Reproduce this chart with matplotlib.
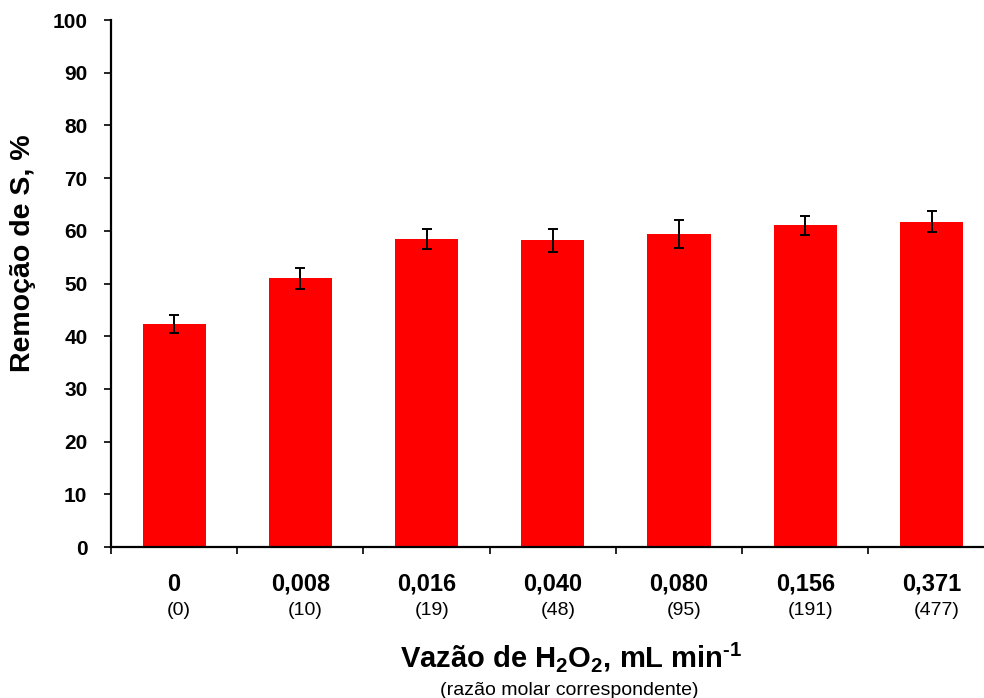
import matplotlib
matplotlib.use("Agg")
import matplotlib.pyplot as plt
import numpy as np

plt.rcParams['font.family'] = ['Liberation Sans', 'DejaVu Sans']
plt.rcParams['mathtext.fontset'] = 'custom'
plt.rcParams['mathtext.rm'] = 'Liberation Sans'
plt.rcParams['mathtext.bf'] = 'Liberation Sans:bold'
plt.rcParams['mathtext.default'] = 'bf'

# data
flows = ["0", "0,008", "0,016", "0,040", "0,080", "0,156", "0,371"]
ratios = ["(0)", "(10)", "(19)", "(48)", "(95)", "(191)", "(477)"]
removal = [42.3, 51.0, 58.4, 58.2, 59.4, 61.1, 61.7]
err = [1.7, 2.0, 1.9, 2.2, 2.7, 1.8, 2.0]

fig = plt.figure(figsize=(9.84, 6.98), dpi=100)
ax = fig.add_axes([0.1128, 0.2163, 0.898, 0.755])

x = np.arange(len(flows))
ax.bar(x, removal, width=0.5, color="#FF0000", zorder=2)
ax.errorbar(x, removal, yerr=err, fmt="none", ecolor="black",
            elinewidth=1.4, capsize=3.3, capthick=1.4, zorder=3)

ax.set_xlim(-0.5, len(flows) - 0.5)
ax.set_ylim(0, 100)
ax.set_yticks(np.arange(0, 101, 10))
for lbl in ax.get_yticklabels():
    lbl.set_fontweight("bold")
    lbl.set_fontsize(15)

# ticks between categories, labels under bars
ax.set_xticks(np.arange(-0.5, len(flows), 1.0))
ax.set_xticklabels([])
ax.tick_params(axis="both", direction="out", length=5, width=1.2)
ax.tick_params(axis="y", pad=12)
for i in range(len(flows)):
    ax.text(x[i], -8.3, flows[i], ha="center", va="baseline", fontsize=17,
            fontweight="bold")
    ax.text(x[i] + 0.04, -12.9, ratios[i], ha="center", va="baseline",
            fontsize=14)

for side in ["top", "right"]:
    ax.spines[side].set_visible(False)
ax.spines["left"].set_linewidth(1.6)
ax.spines["bottom"].set_linewidth(1.6)

fig.text(23 / 984, 1 - 253 / 698, "Remoção de S, %", rotation=90,
         ha="center", va="center", fontsize=20.5, fontweight="bold")
fig.text(571 / 984, 1 - 667 / 698, "Vazão de H$_2$O$_2$, mL min$^{‐1}$",
         ha="center", va="baseline", fontsize=21, fontweight="bold")
fig.text(569 / 984, 1 - 695 / 698, "(razão molar correspondente)",
         ha="center", va="baseline", fontsize=14)

fig.savefig("out.png", dpi=100)
